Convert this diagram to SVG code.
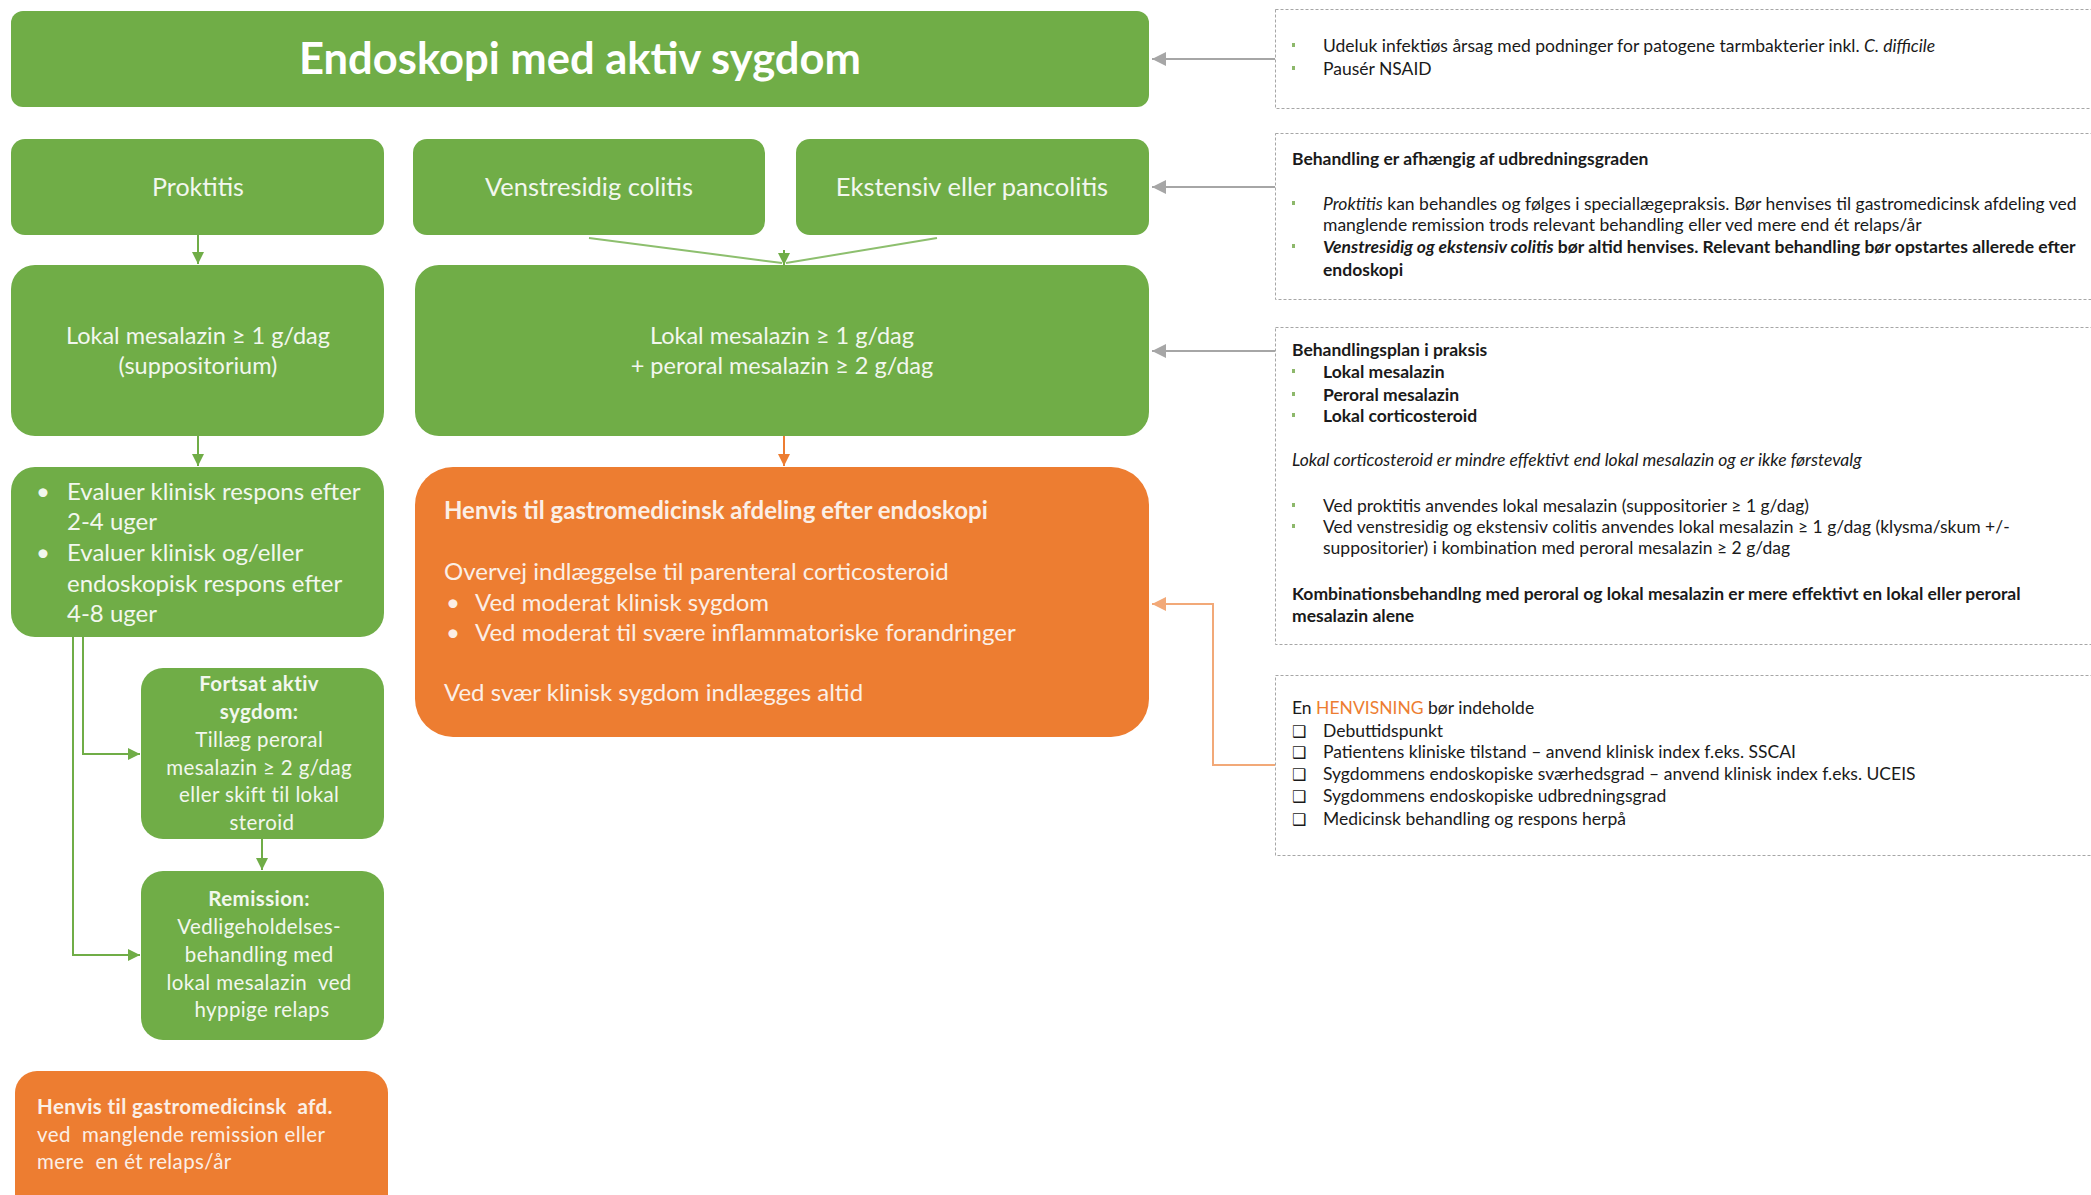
<svg xmlns="http://www.w3.org/2000/svg" width="2091" height="1195" viewBox="0 0 2091 1195">
<style>
.g{fill:#70AD47}
.o{fill:#ED7D31}
.t{font-family:Lato,"Open Sans","Liberation Sans",sans-serif;fill:#F2F7EE}
.to{font-family:Lato,"Open Sans","Liberation Sans",sans-serif;fill:#FBEFE6}
.c{text-anchor:middle}
.b{font-weight:bold}
.i{font-style:italic}
.p{fill:none;stroke:#A6A6A6;stroke-width:1;stroke-dasharray:3 2}
.r{font-family:Lato,"Open Sans","Liberation Sans",sans-serif;fill:#1A1A1A;font-size:17.5px}
.bl{fill:#8DB86B}
.cb{font-family:"DejaVu Sans",sans-serif;font-size:16px;fill:#1A1A1A}
.lg{stroke:#70AD47;stroke-width:2;fill:none}
.lg2{stroke:#8DBF6E;stroke-width:2;fill:none}
.lo{stroke:#ED7D31;stroke-width:2;fill:none}
.lo2{stroke:#F2A978;stroke-width:2;fill:none}
.lgr{stroke:#A6A6A6;stroke-width:2;fill:none}
</style>
<defs>
<marker id="ag" viewBox="0 0 10 10" refX="10" refY="5" markerWidth="12" markerHeight="12" markerUnits="userSpaceOnUse" orient="auto"><path d="M0,0 L10,5 L0,10 z" fill="#70AD47"/></marker>
<marker id="ao" viewBox="0 0 10 10" refX="10" refY="5" markerWidth="12" markerHeight="12" markerUnits="userSpaceOnUse" orient="auto"><path d="M0,0 L10,5 L0,10 z" fill="#ED7D31"/></marker>
<marker id="ao2" viewBox="0 0 10 10" refX="10" refY="5" markerWidth="14" markerHeight="14" markerUnits="userSpaceOnUse" orient="auto"><path d="M0,0 L10,5 L0,10 z" fill="#F2A978"/></marker>
<marker id="agr" viewBox="0 0 10 10" refX="10" refY="5" markerWidth="14" markerHeight="14" markerUnits="userSpaceOnUse" orient="auto"><path d="M0,0 L10,5 L0,10 z" fill="#A6A6A6"/></marker>
</defs>
<rect width="2091" height="1195" fill="#FFFFFF"/>

<g id="connectors">
<line class="lgr" x1="1275" y1="59" x2="1152" y2="59" marker-end="url(#agr)"/>
<line class="lgr" x1="1275" y1="187" x2="1152" y2="187" marker-end="url(#agr)"/>
<line class="lgr" x1="1275" y1="351" x2="1152" y2="351" marker-end="url(#agr)"/>
<polyline class="lo2" points="1275,765 1213,765 1213,604 1152,604" marker-end="url(#ao2)"/>
<line class="lg" x1="198" y1="235" x2="198" y2="264" marker-end="url(#ag)"/>
<line class="lg2" x1="589" y1="238" x2="782" y2="263"/>
<line class="lg2" x1="937" y1="238" x2="786" y2="263"/>
<line class="lg" x1="784" y1="250" x2="784" y2="265" marker-end="url(#ag)" stroke-width="0"/>
<line class="lg" x1="198" y1="436" x2="198" y2="466" marker-end="url(#ag)"/>
<line class="lo" x1="784" y1="436" x2="784" y2="466" marker-end="url(#ao)"/>
<polyline class="lg" points="83,637 83,754 140,754" marker-end="url(#ag)"/>
<polyline class="lg" points="73,637 73,955 140,955" marker-end="url(#ag)"/>
<line class="lg" x1="262" y1="839" x2="262" y2="870" marker-end="url(#ag)"/>
</g>

<g id="title">
<rect class="g" x="11" y="11" width="1138" height="96" rx="12"/>
<text class="t c b" x="580" y="74" font-size="43.5" style="fill:#FFFFFF">Endoskopi med aktiv sygdom</text>
</g>

<g id="proktitis">
<rect class="g" x="11" y="139" width="373" height="96" rx="14"/>
<text class="t c" x="198" y="196" font-size="25">Proktitis</text>
</g>

<g id="venstresidig">
<rect class="g" x="413" y="139" width="352" height="96" rx="14"/>
<text class="t c" x="589" y="196" font-size="25.5">Venstresidig colitis</text>
</g>

<g id="ekstensiv">
<rect class="g" x="796" y="139" width="353" height="96" rx="14"/>
<text class="t c" x="972" y="196" font-size="25.5">Ekstensiv eller pancolitis</text>
</g>

<g id="lokal-left">
<rect class="g" x="11" y="265" width="373" height="171" rx="24"/>
<text class="t c" x="198" y="344" font-size="23.5">Lokal mesalazin ≥ 1 g/dag</text>
<text class="t c" x="198" y="374" font-size="23.5">(suppositorium)</text>
</g>

<g id="lokal-right">
<rect class="g" x="415" y="265" width="734" height="171" rx="24"/>
<text class="t c" x="782" y="344" font-size="23.5">Lokal mesalazin ≥ 1 g/dag</text>
<text class="t c" x="782" y="374" font-size="23.5">+ peroral mesalazin ≥ 2 g/dag</text>
</g>

<g id="evaluer">
<rect class="g" x="11" y="467" width="373" height="170" rx="24"/>
<text class="t" font-size="24">
<tspan x="36" y="500">•</tspan><tspan x="67" y="500">Evaluer klinisk respons efter</tspan>
<tspan x="67" y="530">2-4 uger</tspan>
<tspan x="36" y="561">•</tspan><tspan x="67" y="561">Evaluer klinisk og/eller</tspan>
<tspan x="67" y="592">endoskopisk respons efter</tspan>
<tspan x="67" y="622">4-8 uger</tspan>
</text>
</g>

<g id="henvis-main">
<rect class="o" x="415" y="467" width="734" height="270" rx="38"/>
<text class="to b" x="444" y="519" font-size="24">Henvis til gastromedicinsk afdeling efter endoskopi</text>
<text class="to" font-size="24">
<tspan x="444" y="580">Overvej indlæggelse til parenteral corticosteroid</tspan>
<tspan x="446" y="611">•</tspan><tspan x="475" y="611">Ved moderat klinisk sygdom</tspan>
<tspan x="446" y="641">•</tspan><tspan x="475" y="641">Ved moderat til svære inflammatoriske forandringer</tspan>
<tspan x="444" y="701">Ved svær klinisk sygdom indlægges altid</tspan>
</text>
</g>

<g id="fortsat">
<rect class="g" x="141" y="668" width="243" height="171" rx="22"/>
<text class="t c" font-size="20.5" letter-spacing="0.4">
<tspan class="b" x="262" y="691">Fortsat aktiv</tspan>
<tspan class="b" x="262" y="719">sygdom:</tspan>
<tspan x="262" y="747">Tillæg peroral</tspan>
<tspan x="262" y="775">mesalazin ≥ 2 g/dag</tspan>
<tspan x="262" y="802">eller skift til lokal</tspan>
<tspan x="262" y="830">steroid</tspan>
</text>
</g>

<g id="remission">
<rect class="g" x="141" y="871" width="243" height="169" rx="22"/>
<text class="t c" font-size="20.5" letter-spacing="0.4">
<tspan class="b" x="262" y="906">Remission:</tspan>
<tspan x="262" y="934">Vedligeholdelses-</tspan>
<tspan x="262" y="962">behandling med</tspan>
<tspan x="262" y="990">lokal mesalazin&#160; ved</tspan>
<tspan x="262" y="1017">hyppige relaps</tspan>
</text>
</g>

<g id="henvis-afd">
<rect class="o" x="15" y="1071" width="373" height="150" rx="22"/>
<text class="to" font-size="20.5" letter-spacing="0.4">
<tspan class="b" x="37" y="1114">Henvis til gastromedicinsk&#160; afd.</tspan>
<tspan x="37" y="1142">ved&#160; manglende remission eller</tspan>
<tspan x="37" y="1169">mere&#160; en ét relaps/år</tspan>
</text>
</g>

<g id="note-1">
<rect class="p" x="1275.5" y="9.5" width="830" height="99"/>
<rect class="bl" x="1292" y="43" width="3" height="4"/>
<rect class="bl" x="1292" y="66" width="3" height="4"/>
<text class="r"><tspan x="1323" y="52">Udeluk infektiøs årsag med podninger for patogene tarmbakterier inkl. </tspan><tspan class="i">C. difficile</tspan></text>
<text class="r" x="1323" y="75">Pausér NSAID</text>
</g>

<g id="note-2">
<rect class="p" x="1275.5" y="133.5" width="830" height="166"/>
<text class="r b" x="1292" y="165">Behandling er afhængig af udbredningsgraden</text>
<rect class="bl" x="1292" y="201" width="3" height="4"/>
<rect class="bl" x="1292" y="244" width="3" height="4"/>
<text class="r"><tspan class="i" x="1323" y="210">Proktitis</tspan><tspan> kan behandles og følges i speciallægepraksis. Bør henvises til gastromedicinsk afdeling ved</tspan></text>
<text class="r" x="1323" y="231">manglende remission trods relevant behandling eller ved mere end ét relaps/år</text>
<text class="r b"><tspan class="i" x="1323" y="253">Venstresidig og ekstensiv colitis</tspan><tspan> bør altid henvises. Relevant behandling bør opstartes allerede efter</tspan></text>
<text class="r b" x="1323" y="276">endoskopi</text>
</g>

<g id="note-3">
<rect class="p" x="1275.5" y="327.5" width="830" height="317"/>
<text class="r b" x="1292" y="356">Behandlingsplan i praksis</text>
<rect class="bl" x="1292" y="369" width="3" height="4"/>
<rect class="bl" x="1292" y="392" width="3" height="4"/>
<rect class="bl" x="1292" y="413" width="3" height="4"/>
<text class="r b" x="1323" y="378">Lokal mesalazin</text>
<text class="r b" x="1323" y="401">Peroral mesalazin</text>
<text class="r b" x="1323" y="422">Lokal corticosteroid</text>
<text class="r i" x="1292" y="466">Lokal corticosteroid er mindre effektivt end lokal mesalazin og er ikke førstevalg</text>
<rect class="bl" x="1292" y="503" width="3" height="4"/>
<rect class="bl" x="1292" y="524" width="3" height="4"/>
<text class="r" x="1323" y="512">Ved proktitis anvendes lokal mesalazin (suppositorier ≥ 1 g/dag)</text>
<text class="r" x="1323" y="533">Ved venstresidig og ekstensiv colitis anvendes lokal mesalazin ≥ 1 g/dag (klysma/skum +/-</text>
<text class="r" x="1323" y="554">suppositorier) i kombination med peroral mesalazin ≥ 2 g/dag</text>
<text class="r b" x="1292" y="600">Kombinationsbehandlng med peroral og lokal mesalazin er mere effektivt en lokal eller peroral</text>
<text class="r b" x="1292" y="622">mesalazin alene</text>
</g>

<g id="note-4">
<rect class="p" x="1275.5" y="675.5" width="830" height="180"/>
<text class="r" x="1292" y="714">En <tspan fill="#ED7D31">HENVISNING</tspan> bør indeholde</text>
<text class="cb" x="1292" y="737">❑</text>
<text class="cb" x="1292" y="758">❑</text>
<text class="cb" x="1292" y="780">❑</text>
<text class="cb" x="1292" y="802">❑</text>
<text class="cb" x="1292" y="825">❑</text>
<text class="r" x="1323" y="737">Debuttidspunkt</text>
<text class="r" x="1323" y="758">Patientens kliniske tilstand – anvend klinisk index f.eks. SSCAI</text>
<text class="r" x="1323" y="780">Sygdommens endoskopiske sværhedsgrad – anvend klinisk index f.eks. UCEIS</text>
<text class="r" x="1323" y="802">Sygdommens endoskopiske udbredningsgrad</text>
<text class="r" x="1323" y="825">Medicinsk behandling og respons herpå</text>
</g>
</svg>
